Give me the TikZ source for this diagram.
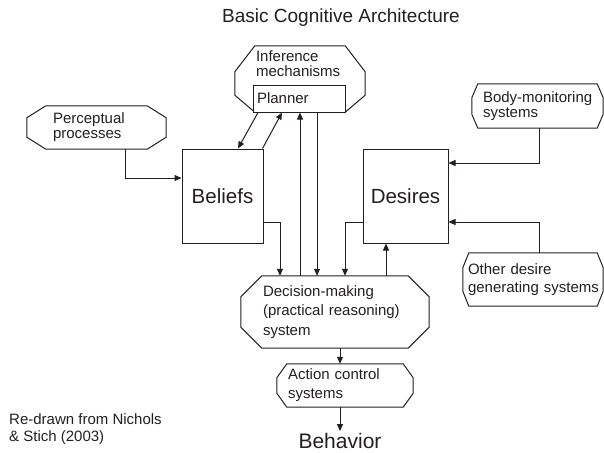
\documentclass[tikz,border=0pt]{standalone}
\usepackage{fontspec}
\setmainfont{Liberation Sans}
\usetikzlibrary{arrows.meta}
\definecolor{ink}{RGB}{35,31,32}
\newcommand\octdraw[4]{%
  \draw[shapeline] ([xshift=#2]#1.north west) -- ([xshift=-#2]#1.north east)
    -- ([yshift=-#3]#1.north east) -- ([yshift=#4]#1.south east)
    -- ([xshift=-#2]#1.south east) -- ([xshift=#2]#1.south west)
    -- ([yshift=#4]#1.south west) -- ([yshift=-#3]#1.north west) -- cycle;}
\tikzset{
  shapeline/.style={draw=ink, line width=1pt, line join=miter},
  arr/.style={draw=ink, line width=1pt, -{Triangle[length=7pt,width=6pt]}},
  octn/.style={inner xsep=0pt, inner ysep=0pt, align=left, text=ink},
  boxn/.style={draw=ink, line width=1pt, inner sep=0pt, text=ink},
  small/.style={font=\fontsize{15}{#1}\selectfont},
}
\begin{document}
\begin{tikzpicture}[x=1pt,y=-1pt]
\useasboundingbox (0,0) rectangle (604,452);
% title
\node[text=ink, font=\fontsize{19}{22}\selectfont] (title) at (341,18) {Basic Cognitive Architecture};
% inference mechanisms + planner
\node[minimum width=130pt, minimum height=66pt, inner sep=0pt] (infer) at (300,79) {};
\octdraw{infer}{20pt}{26pt}{17pt}
\node[octn, small=15, anchor=north west] (infertext) at ([xshift=21pt,yshift=-5pt]infer.north west) {Inference\\mechanisms};
\node[boxn, fill=white, minimum width=92pt, minimum height=27pt, text width=84pt, align=left, small=17] (planner) at (299,98.5) {Planner};
% perceptual
\node[octn, small=15, minimum width=139pt, minimum height=43pt, text width=87pt] (percept) at (96.5,127.5) {Perceptual\\processes};
\octdraw{percept}{19pt}{12pt}{12pt}
% beliefs / desires
\node[boxn, minimum width=81pt, minimum height=94pt, font=\fontsize{20.5}{24}\selectfont] (beliefs) at (222.5,196) {Beliefs};
\node[boxn, minimum width=85pt, minimum height=94pt, font=\fontsize{20.5}{24}\selectfont] (desires) at (405.5,196) {Desires};
% body monitoring
\node[octn, small=15, minimum width=131pt, minimum height=44pt, text width=109pt] (body) at (537.5,106) {\mbox{Body-monitoring}\\systems};
\octdraw{body}{6pt}{14pt}{14pt}
% other desire
\node[octn, small=18, minimum width=140pt, minimum height=53pt, text width=130pt] (other) at (533,279.5) {\mbox{Other desire}\\\mbox{generating systems}};
\octdraw{other}{6pt}{15pt}{15pt}
% decision
\node[octn, small=19.5, minimum width=188pt, minimum height=72pt, text width=144pt] (decision) at (335,312) {\mbox{Decision-making}\\\mbox{(practical reasoning)}\\system};
\octdraw{decision}{21pt}{21pt}{21pt}
% action
\node[octn, small=19, minimum width=136pt, minimum height=43pt, text width=114pt] (action) at (345,385.5) {\mbox{Action control}\\systems};
\octdraw{action}{10pt}{14pt}{14pt}
% behavior
\node[text=ink, inner sep=2pt, font=\fontsize{21}{24}\selectfont] (behavior) at (340,441) {Behavior};
% credit
\node[octn, small=17, anchor=north west] (credit) at (9,413) {Re-drawn from Nichols\\\& Stich (2003)};
% coordinates
\coordinate (pp) at ([xshift=28.5pt]percept.south);
\coordinate (bw) at ([yshift=18pt]beliefs.west);
\coordinate (bs) at ([xshift=1.5pt]body.south);
\coordinate (de1) at ([yshift=33pt]desires.east);
\coordinate (on) at ([xshift=6pt]other.north);
\coordinate (de2) at ([yshift=-26pt]desires.east);
\coordinate (be) at ([yshift=-26pt]beliefs.east);
\coordinate (dn1) at ([xshift=-55pt]decision.north);
\coordinate (dw) at ([yshift=-26pt]desires.west);
\coordinate (dn4) at ([xshift=10pt]decision.north);
\coordinate (dn5) at ([xshift=51pt]decision.north);
\coordinate (dn2) at ([xshift=-35pt]decision.north);
\coordinate (ps) at ([xshift=18pt]planner.south);
\coordinate (p1) at ([xshift=-41pt]planner.south);
\coordinate (b1) at ([xshift=15.5pt]beliefs.north);
\coordinate (b2) at ([xshift=-1pt]beliefs.north east);
\coordinate (p2) at ([xshift=-17pt]planner.south);
\coordinate (ds) at ([xshift=5pt]decision.south);
\coordinate (as) at ([xshift=-5pt]action.south);
% connectors
\draw[arr] (pp) |- (bw);
\draw[arr] (bs) |- (de1);
\draw[arr] (on) |- (de2);
\draw[arr] (be) -| (dn1);
\draw[arr] (dw) -| (dn4);
\draw[arr] (dn5) -- (dn5 |- desires.south);
\draw[arr] (dn2) -- (dn2 |- planner.south);
\draw[arr] (ps) -- (ps |- decision.north);
\draw[arr] (p1) -- (b1);
\draw[arr] (b2) -- (p2);
\draw[arr] (ds) -- (ds |- action.north);
\draw[arr] (as) -- (as |- behavior.north);
\end{tikzpicture}
\end{document}
